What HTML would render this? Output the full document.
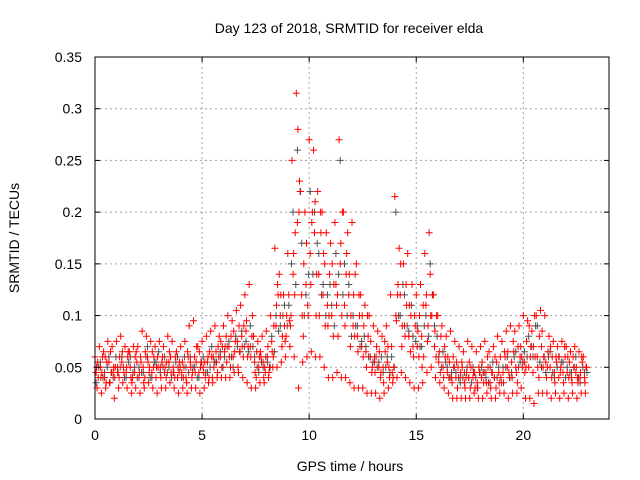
<!DOCTYPE html>
<html><head><meta charset="utf-8"><style>
html,body{margin:0;padding:0;background:#fff}
svg{display:block;font-family:"Liberation Sans",sans-serif}
</style></head><body>
<svg id="chart" width="640" height="480" viewBox="0 0 640 480" xmlns="http://www.w3.org/2000/svg">
<rect width="640" height="480" fill="#fff"/>
<text x="349" y="33" font-size="14" text-anchor="middle">Day 123 of 2018, SRMTID for receiver elda</text>
<text x="350" y="471" font-size="14" text-anchor="middle">GPS time / hours</text>
<text transform="translate(19,238) rotate(-90)" font-size="14" text-anchor="middle">SRMTID / TECUs</text>
<g id="grid"></g>
<g id="marks"></g>
<rect x="95" y="57" width="514" height="362" fill="none" stroke="#000" stroke-width="1"/>
<g id="ticks"></g>
</svg>
<script>
const xTicks=[0,5,10,15,20];
const yTicks=[0,0.05,0.1,0.15,0.2,0.25,0.3,0.35];
const yTickLabels=["0","0.05","0.1","0.15","0.2","0.25","0.3","0.35"];
const step=0.2;
const grayStart=0.05;
const grayValues=[.035,.055,.045,.06,.04,.045,.06,.04,.06,.05,.05,.045,.07,.04,.055,.045,.06,.05,.045,.06,.04,.05,.06,.05,.04,.06,.045,.07,.055,.065,.06,.075,.05,.07,.085,.075,.09,.06,.045,.05,.055,.08,.1,.09,.11,.11,.2,.26,.17,.12,.22,.2,.16,.13,.12,.11,.16,.25,.15,.13,.1,.09,.075,.07,.06,.06,.055,.045,.06,.06,.2,.1,.12,.085,.08,.09,.07,.1,.15,.09,.06,.065,.05,.045,.045,.035,.045,.04,.05,.03,.05,.04,.05,.04,.05,.05,.06,.045,.065,.055,.065,.08,.06,.09,.05,.045,.065,.04,.06,.055,.05,.045,.06,.035,.045];
const grayBStart=0.175;
const grayB=[.05,.04,.05,.045,.06,.05,.04,.055,.045,.04,.045,.06,.04,.055,.065,.05,.045,.04,.055,.05,.06,.045,.05,.04,.055,.045,.05,.055,.06,.05,.07,.06,.08,.065,.07,.065,.07,.05,.055,.06,.05,.065,.085,.1,.09,.15,.13,.22,.1,.14,.14,.17,.12,.1,.13,.09,.14,.12,.1,.08,.09,.07,.08,.06,.055,.05,.06,.05,.045,.05,.1,.13,.09,.11,.075,.07,.09,.08,.12,.08,.05,.055,.04,.05,.04,.04,.05,.035,.04,.045,.045,.035,.055,.04,.035,.05,.04,.06,.05,.055,.06,.07,.09,.055,.06,.06,.045,.05,.055,.04,.045,.05,.04,.05,.045];
const redHighStart=0.0;
const redHigh=[.06,.07,.065,.075,.07,.075,.08,.07,.065,.07,.07,.085,.08,.075,.07,.075,.07,.08,.075,.065,.07,.075,.09,.095,.07,.075,.08,.085,.09,.08,.09,.1,.095,.105,.11,.12,.13,.08,.075,.08,.085,.1,.165,.14,.12,.16,.25,.315,.22,.2,.27,.26,.22,.2,.18,.17,.19,.27,.2,.18,.19,.15,.12,.11,.1,.09,.085,.08,.09,.12,.215,.165,.15,.16,.13,.12,.13,.16,.18,.12,.1,.09,.08,.085,.075,.07,.065,.075,.07,.065,.07,.075,.065,.07,.08,.075,.085,.09,.085,.09,.1,.095,.085,.1,.105,.1,.08,.075,.07,.075,.07,.065,.07,.065,.06];
const redLowStart=0.1;
const redLow=[.03,.025,.03,.035,.02,.03,.035,.03,.025,.03,.025,.03,.035,.03,.025,.03,.03,.035,.03,.025,.03,.025,.03,.03,.025,.03,.035,.035,.04,.04,.04,.04,.045,.045,.04,.035,.03,.03,.035,.035,.04,.05,.05,.055,.06,.07,.06,.03,.055,.06,.065,.06,.06,.05,.04,.04,.045,.04,.04,.035,.03,.03,.03,.025,.025,.025,.02,.025,.03,.035,.04,.045,.04,.035,.03,.03,.035,.045,.05,.04,.035,.03,.025,.02,.02,.02,.02,.02,.025,.02,.02,.025,.02,.02,.025,.025,.02,.025,.025,.03,.02,.02,.015,.025,.025,.025,.02,.025,.02,.025,.02,.025,.02,.025,.025];
const redMidStart=0.05;
const redMid=[.045,.05,.04,.055,.045,.05,.055,.045,.05,.045,.04,.05,.06,.045,.04,.05,.045,.055,.05,.04,.045,.04,.055,.06,.045,.05,.055,.06,.065,.06,.065,.07,.06,.075,.08,.085,.07,.055,.05,.055,.06,.075,.09,.1,.09,.12,.14,.19,.12,.13,.16,.18,.14,.12,.11,.1,.13,.15,.11,.12,.09,.08,.07,.065,.06,.055,.05,.05,.055,.07,.1,.12,.09,.08,.07,.07,.08,.11,.14,.07,.055,.05,.045,.04,.04,.04,.035,.04,.04,.035,.04,.045,.035,.04,.045,.045,.05,.055,.05,.06,.055,.05,.045,.06,.07,.055,.05,.045,.04,.045,.045,.04,.045,.04,.04];
const redMid2Start=0.15;
const redMid2=[.04,.06,.055,.045,.05,.06,.045,.065,.04,.055,.055,.065,.05,.06,.05,.06,.055,.045,.06,.055,.05,.06,.045,.07,.055,.04,.065,.05,.07,.07,.055,.08,.075,.065,.09,.07,.1,.065,.06,.045,.05,.09,.12,.08,.1,.1,.18,.23,.15,.1,.2,.14,.18,.09,.14,.13,.08,.2,.16,.1,.14,.1,.09,.08,.05,.07,.045,.065,.04,.05,.13,.09,.11,.1,.09,.1,.06,.09,.12,.1,.08,.06,.055,.05,.05,.05,.045,.05,.03,.045,.035,.05,.045,.055,.04,.06,.04,.065,.07,.05,.075,.07,.06,.08,.06,.065,.06,.055,.05,.06,.055,.05,.035,.055,.05];
const redAStart=0.075;
const redA=[.05,.04,.06,.035,.05,.045,.065,.05,.04,.06,.045,.035,.055,.065,.05,.04,.05,.065,.045,.05,.055,.035,.05,.045,.065,.045,.06,.04,.055,.075,.07,.06,.085,.05,.07,.095,.06,.045,.06,.04,.07,.065,.11,.12,.075,.095,.16,.28,.1,.17,.13,.21,.1,.16,.09,.15,.11,.17,.09,.14,.12,.065,.1,.05,.075,.045,.065,.035,.07,.045,.095,.15,.08,.11,.06,.085,.05,.12,.1,.085,.065,.04,.06,.035,.055,.045,.03,.055,.045,.03,.055,.035,.03,.06,.035,.035,.065,.04,.045,.07,.045,.09,.07,.05,.085,.04,.07,.035,.06,.035,.06,.035,.05,.045,.035];
const redBStart=0.125;
const redB=[.055,.045,.035,.065,.04,.04,.05,.06,.035,.065,.06,.04,.045,.05,.06,.055,.04,.06,.04,.045,.04,.065,.04,.055,.05,.055,.04,.06,.045,.05,.08,.05,.065,.09,.06,.06,.08,.04,.065,.05,.045,.06,.13,.07,.08,.09,.12,.2,.08,.11,.19,.1,.2,.15,.1,.08,.12,.1,.14,.07,.08,.12,.06,.1,.045,.06,.04,.075,.05,.04,.12,.07,.13,.065,.1,.06,.11,.075,.1,.06,.045,.07,.04,.06,.03,.055,.04,.03,.045,.05,.045,.06,.045,.03,.06,.065,.045,.075,.035,.06,.05,.06,.1,.04,.05,.05,.04,.06,.045,.07,.04,.06,.04,.06,.05];

const X0=95,X1=609,Y0=419,Y1=57,XMAX=24,YMAX=0.35;
const sx=v=>X0+(X1-X0)*v/XMAX;
const sy=v=>Y0-(Y0-Y1)*v/YMAX;
const NS="http://www.w3.org/2000/svg";
const grid=document.getElementById('grid'),ticks=document.getElementById('ticks'),marks=document.getElementById('marks');
function mk(tag,attrs,parent){const e=document.createElementNS(NS,tag);for(const k in attrs)e.setAttribute(k,attrs[k]);parent.appendChild(e);return e;}
xTicks.forEach(v=>{
  const x=sx(v);
  if(v>0){const g=mk('line',{x1:x,x2:x,y1:Y0,y2:Y1,stroke:'#a0a0a0','stroke-dasharray':'2,3'},grid);
  
  }
  mk('line',{x1:x,x2:x,y1:Y0,y2:Y0-5,stroke:'#000'},ticks);
  mk('line',{x1:x,x2:x,y1:Y1,y2:Y1+5,stroke:'#000'},ticks);
  const t=mk('text',{x:x,y:Y0+21,'font-size':14,'text-anchor':'middle'},ticks);
  t.textContent=String(v);
  
  
});
yTicks.forEach((v,i)=>{
  const y=sy(v);
  if(v>0&&v<YMAX){const g=mk('line',{x1:X0,x2:X1,y1:y,y2:y,stroke:'#a0a0a0','stroke-dasharray':'2,3'},grid);
  
  }
  mk('line',{x1:X0,x2:X0+5,y1:y,y2:y,stroke:'#000'},ticks);
  mk('line',{x1:X1,x2:X1-5,y1:y,y2:y,stroke:'#000'},ticks);
  const t=mk('text',{x:X0-13,y:y+5,'font-size':14,'text-anchor':'end'},ticks);
  t.textContent=yTickLabels[i];
  
  
});
function plotSeries(vals,start,color,name){
  let d='';
  vals.forEach((v,i)=>{const x=sx(start+i*step),y=sy(v);d+=`M${(x-3.5).toFixed(1)} ${y.toFixed(1)}h7M${x.toFixed(1)} ${(y-3.5).toFixed(1)}v7`;});
  const p=mk('path',{d:d,stroke:color,'stroke-width':1,fill:'none'},marks);
  
  
}
plotSeries(grayValues,grayStart,'#505050','gray-series');
plotSeries(grayB,grayBStart,'#505050','gray-series-b');
plotSeries(redLow,redLowStart,'#ff0000','red-series-low');
plotSeries(redMid,redMidStart,'#ff0000','red-series-mid');
plotSeries(redMid2,redMid2Start,'#ff0000','red-series-mid2');
plotSeries(redA,redAStart,'#ff0000','red-series-a');
plotSeries(redB,redBStart,'#ff0000','red-series-b');
plotSeries(redHigh,redHighStart,'#ff0000','red-series-high');
</script>
</body></html>
